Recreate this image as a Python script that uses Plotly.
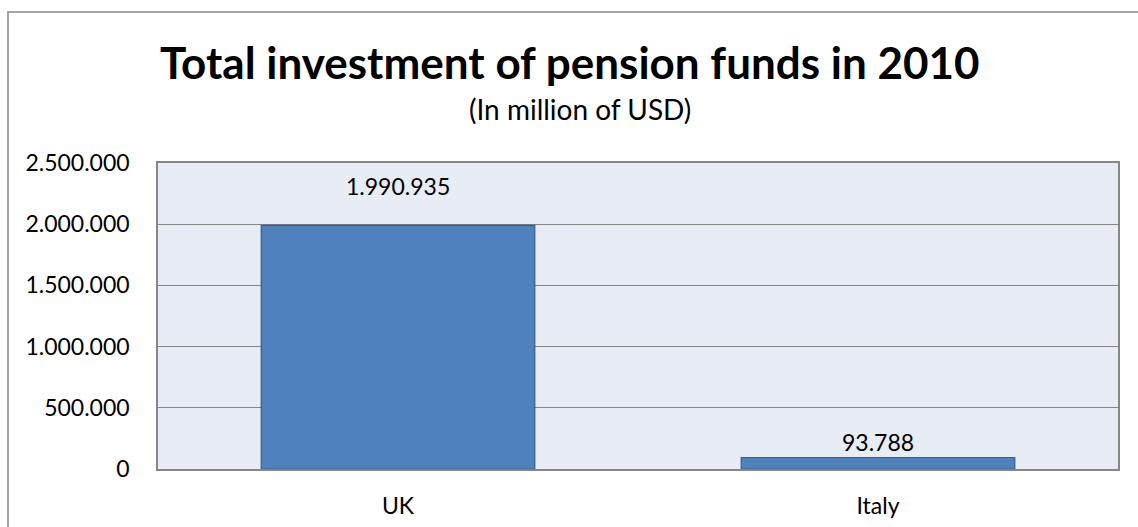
import plotly.graph_objects as go

# Pension fund investments, 2010 (million USD)
countries = ["UK", "Italy"]
investment = [1990935, 93788]
y_ticks = [0, 500000, 1000000, 1500000, 2000000, 2500000]

W, H = 1138, 527
L, R, T, B = 158, 20, 163, 58
plot_h = H - T - B
plot_w = W - L - R

FONT = "Lato"
GRID = "#878787"


def px_to_paper_y(py):
    return (H - B - py) / plot_h


def px_to_paper_x(px):
    return (px - L) / plot_w


def dotted(v):
    return f"{v:,}".replace(",", ".")


fig = go.Figure(
    go.Bar(
        x=countries,
        y=investment,
        marker=dict(color="#4F81BD", line=dict(color="#385D8A", width=1.2)),
        width=0.57,
        hoverinfo="skip",
    )
)

# value labels above the bars
label_shift = [39, 16]
for c, v, s in zip(countries, investment, label_shift):
    fig.add_annotation(
        x=c, y=v, text=dotted(v), showarrow=False,
        yanchor="middle", yshift=s,
        font=dict(family=FONT, size=23, color="#000000"),
    )

# title and subtitle
fig.add_annotation(
    xref="paper", yref="paper", x=px_to_paper_x(570), y=px_to_paper_y(62),
    text="<b>Total investment of pension funds in 2010</b>", showarrow=False,
    xanchor="center", yanchor="middle",
    font=dict(family=FONT, size=44, color="#000000"),
)
fig.add_annotation(
    xref="paper", yref="paper", x=px_to_paper_x(580), y=px_to_paper_y(109),
    text="(In million of USD)", showarrow=False,
    xanchor="center", yanchor="middle",
    font=dict(family=FONT, size=28, color="#000000"),
)

# outer chart frame
fig.add_shape(
    type="rect", xref="paper", yref="paper",
    x0=px_to_paper_x(8), x1=px_to_paper_x(W + 20),
    y0=px_to_paper_y(H + 20), y1=px_to_paper_y(12),
    line=dict(color="#868686", width=1.5), fillcolor="rgba(0,0,0,0)",
    layer="below",
)

fig.update_layout(
    width=W, height=H,
    margin=dict(l=L, r=R, t=T, b=B, autoexpand=False),
    paper_bgcolor="white",
    plot_bgcolor="#E8ECF4",
    separators=",.",
    showlegend=False,
    font=dict(family=FONT, size=23, color="#000000"),
)
fig.update_yaxes(
    range=[0, 2500000], tickvals=y_ticks, tickformat=",d",
    showgrid=True, gridcolor=GRID, gridwidth=1.2,
    showline=True, linecolor=GRID, linewidth=1.5, mirror=True,
    zeroline=False, ticks="", ticklabelstandoff=22, automargin=False,
    tickfont=dict(family=FONT, size=23, color="#000000"),
)
fig.update_xaxes(
    showline=True, linecolor=GRID, linewidth=1.5, mirror=True,
    showgrid=False, ticks="", ticklabelstandoff=16, automargin=False,
    tickfont=dict(family=FONT, size=23, color="#000000"),
)

fig.write_html("out.html")
